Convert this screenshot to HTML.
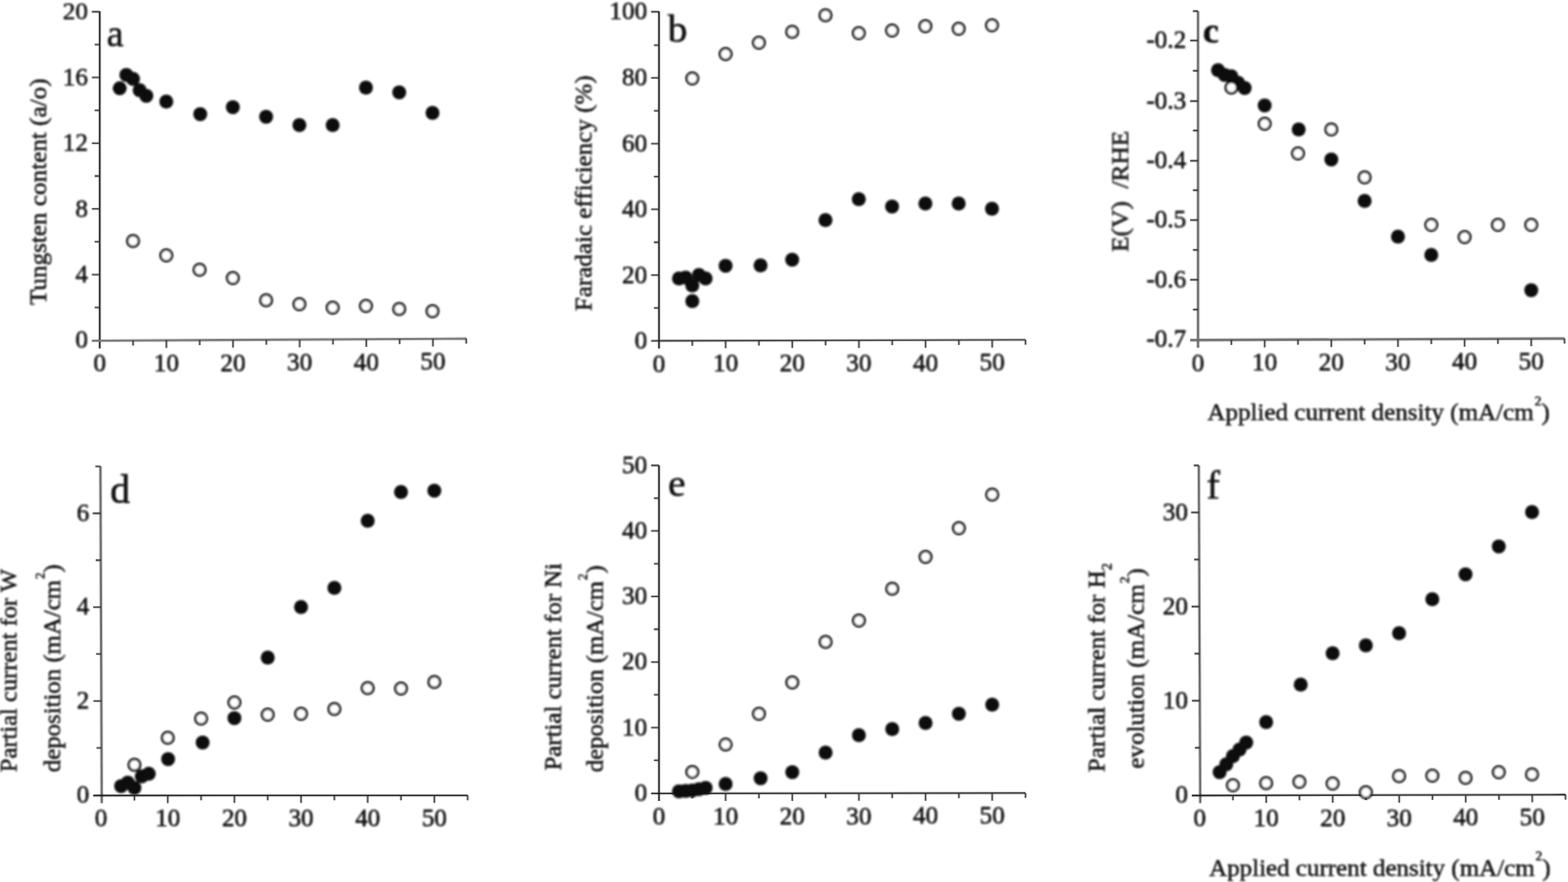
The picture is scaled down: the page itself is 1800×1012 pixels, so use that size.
<!DOCTYPE html>
<html lang="en">
<head>
<meta charset="utf-8">
<title>Figure</title>
<style>
html,body{margin:0;padding:0;background:#fff;}
body{width:1800px;height:1012px;overflow:hidden;}
svg{display:block;font-family:"Liberation Serif",serif;fill:#0c0c0c;}
text{stroke:#0c0c0c;stroke-width:0.6px;stroke-linejoin:round;}
.lb{stroke-width:0.5px;}
</style>
</head>
<body>
<svg width="1800" height="1012" viewBox="0 0 1800 1012">
<defs><filter id="soft" x="0" y="0" width="1800" height="1012" filterUnits="userSpaceOnUse"><feGaussianBlur stdDeviation="1"/></filter></defs>
<rect width="1800" height="1012" fill="#fff"/>
<g id="plot-a">
<g>
<path d="M114.5 13 L114.5 399.7" stroke="#161616" stroke-width="3.4" stroke-opacity="0.3" fill="none"/>
<path d="M114.5 13 L114.5 399.7" stroke="#161616" stroke-width="1.4" fill="none"/>
<path d="M105.5 391 L535.25 388.6" stroke="#777777" stroke-width="4.2" stroke-opacity="0.3" fill="none"/>
<path d="M105.5 391 L535.25 388.6" stroke="#777777" stroke-width="2.2" fill="none"/>
<path d="M152.75 390.78 v5.7 M191 390.56 v8.7 M229.25 390.35 v5.7 M267.5 390.13 v8.7 M305.75 389.91 v5.7 M344 389.69 v8.7 M382.25 389.47 v5.7 M420.5 389.25 v8.7 M458.75 389.04 v5.7 M497 388.82 v8.7 M535.25 388.6 v5.7 M114.5 315.1 h-9 M114.5 239.7 h-9 M114.5 164.3 h-9 M114.5 88.9 h-9 M114.5 13.5 h-9 M114.5 352.8 h-5.8 M114.5 277.4 h-5.8 M114.5 202 h-5.8 M114.5 126.6 h-5.8 M114.5 51.2 h-5.8" stroke="#3a3a3a" stroke-width="3.3" stroke-opacity="0.3" fill="none"/>
<path d="M152.75 390.78 v5.7 M191 390.56 v8.7 M229.25 390.35 v5.7 M267.5 390.13 v8.7 M305.75 389.91 v5.7 M344 389.69 v8.7 M382.25 389.47 v5.7 M420.5 389.25 v8.7 M458.75 389.04 v5.7 M497 388.82 v8.7 M535.25 388.6 v5.7 M114.5 315.1 h-9 M114.5 239.7 h-9 M114.5 164.3 h-9 M114.5 88.9 h-9 M114.5 13.5 h-9 M114.5 352.8 h-5.8 M114.5 277.4 h-5.8 M114.5 202 h-5.8 M114.5 126.6 h-5.8 M114.5 51.2 h-5.8" stroke="#3a3a3a" stroke-width="1.3" fill="none"/>
</g>
<g filter="url(#soft)">
<g font-size="30.5" text-anchor="middle">
<text transform="translate(114.5 426.4) scale(0.95 1)">0</text>
<text transform="translate(191 425.96) scale(0.95 1)">10</text>
<text transform="translate(267.5 425.53) scale(0.95 1)">20</text>
<text transform="translate(344 425.09) scale(0.95 1)">30</text>
<text transform="translate(420.5 424.65) scale(0.95 1)">40</text>
<text transform="translate(497 424.22) scale(0.95 1)">50</text>
</g>
<g font-size="30.5" text-anchor="end">
<text transform="translate(101 399.3) scale(0.95 1)">0</text>
<text transform="translate(101 323.9) scale(0.95 1)">4</text>
<text transform="translate(101 248.5) scale(0.95 1)">8</text>
<text transform="translate(101 173.1) scale(0.95 1)">12</text>
<text transform="translate(101 97.7) scale(0.95 1)">16</text>
<text transform="translate(101 22.3) scale(0.95 0.91)">20</text>
</g>
<g fill="#0a0a0a"><circle cx="137.42" cy="101.3" r="8"/><circle cx="145.06" cy="86" r="8"/><circle cx="152.7" cy="90.5" r="8"/><circle cx="160.34" cy="103.5" r="8"/><circle cx="167.98" cy="110" r="8"/><circle cx="190.9" cy="116.5" r="8"/><circle cx="229.86" cy="131" r="8"/><circle cx="267.3" cy="123" r="8"/><circle cx="305.5" cy="134" r="8"/><circle cx="343.7" cy="143.5" r="8"/><circle cx="381.9" cy="143.5" r="8"/><circle cx="420.1" cy="100.5" r="8"/><circle cx="458.3" cy="106" r="8"/><circle cx="496.5" cy="129.5" r="8"/></g>
<g fill="#fff" stroke="#050505" stroke-width="2.8"><circle cx="152.7" cy="276.5" r="6.6"/><circle cx="190.9" cy="293" r="6.6"/><circle cx="229.1" cy="309.5" r="6.6"/><circle cx="267.3" cy="319" r="6.6"/><circle cx="305.5" cy="344.5" r="6.6"/><circle cx="343.7" cy="349" r="6.6"/><circle cx="381.9" cy="353" r="6.6"/><circle cx="420.1" cy="351" r="6.6"/><circle cx="458.3" cy="354.5" r="6.6"/><circle cx="496.5" cy="357" r="6.6"/></g>
<text x="122.5" y="53" font-size="43.5" font-weight="normal">a</text>
<text class="lb" transform="translate(53 220) rotate(-90)" font-size="28" text-anchor="middle" textLength="260" lengthAdjust="spacingAndGlyphs" xml:space="preserve">Tungsten content (a/o)</text>
</g>
</g>
<g id="plot-b">
<g>
<path d="M756.5 13 L756.5 399.8" stroke="#161616" stroke-width="3.4" stroke-opacity="0.3" fill="none"/>
<path d="M756.5 13 L756.5 399.8" stroke="#161616" stroke-width="1.4" fill="none"/>
<path d="M747.5 391.1 L1177.25 389.9" stroke="#333333" stroke-width="3.4" stroke-opacity="0.3" fill="none"/>
<path d="M747.5 391.1 L1177.25 389.9" stroke="#333333" stroke-width="1.4" fill="none"/>
<path d="M794.75 390.99 v5.7 M833 390.88 v8.7 M871.25 390.77 v5.7 M909.5 390.66 v8.7 M947.75 390.55 v5.7 M986 390.45 v8.7 M1024.25 390.34 v5.7 M1062.5 390.23 v8.7 M1100.75 390.12 v5.7 M1139 390.01 v8.7 M1177.25 389.9 v5.7 M756.5 315.7 h-9 M756.5 240.2 h-9 M756.5 164.8 h-9 M756.5 89.3 h-9 M756.5 13.5 h-9 M756.5 353.4 h-5.8 M756.5 278 h-5.8 M756.5 202.6 h-5.8 M756.5 127.2 h-5.8 M756.5 51.8 h-5.8" stroke="#3a3a3a" stroke-width="3.3" stroke-opacity="0.3" fill="none"/>
<path d="M794.75 390.99 v5.7 M833 390.88 v8.7 M871.25 390.77 v5.7 M909.5 390.66 v8.7 M947.75 390.55 v5.7 M986 390.45 v8.7 M1024.25 390.34 v5.7 M1062.5 390.23 v8.7 M1100.75 390.12 v5.7 M1139 390.01 v8.7 M1177.25 389.9 v5.7 M756.5 315.7 h-9 M756.5 240.2 h-9 M756.5 164.8 h-9 M756.5 89.3 h-9 M756.5 13.5 h-9 M756.5 353.4 h-5.8 M756.5 278 h-5.8 M756.5 202.6 h-5.8 M756.5 127.2 h-5.8 M756.5 51.8 h-5.8" stroke="#3a3a3a" stroke-width="1.3" fill="none"/>
</g>
<g filter="url(#soft)">
<g font-size="30.5" text-anchor="middle">
<text transform="translate(756.5 426.5) scale(0.95 1)">0</text>
<text transform="translate(833 426.28) scale(0.95 1)">10</text>
<text transform="translate(909.5 426.06) scale(0.95 1)">20</text>
<text transform="translate(986 425.85) scale(0.95 1)">30</text>
<text transform="translate(1062.5 425.63) scale(0.95 1)">40</text>
<text transform="translate(1139 425.41) scale(0.95 1)">50</text>
</g>
<g font-size="30.5" text-anchor="end">
<text transform="translate(743 399.9) scale(0.95 1)">0</text>
<text transform="translate(743 324.5) scale(0.95 1)">20</text>
<text transform="translate(743 249) scale(0.95 1)">40</text>
<text transform="translate(743 173.6) scale(0.95 1)">60</text>
<text transform="translate(743 98.1) scale(0.95 1)">80</text>
<text transform="translate(743 22.3) scale(0.95 1)">100</text>
</g>
<g fill="#0a0a0a"><circle cx="779.43" cy="319.5" r="8"/><circle cx="787.08" cy="318.5" r="8"/><circle cx="794.73" cy="327.5" r="8"/><circle cx="794.73" cy="345.5" r="8"/><circle cx="802.37" cy="315.5" r="8"/><circle cx="810.01" cy="319.5" r="8"/><circle cx="832.95" cy="305" r="8"/><circle cx="873.09" cy="304.5" r="8"/><circle cx="909.4" cy="298" r="8"/><circle cx="947.62" cy="252.5" r="8"/><circle cx="985.85" cy="228.5" r="8"/><circle cx="1024.08" cy="237" r="8"/><circle cx="1062.3" cy="233.5" r="8"/><circle cx="1100.53" cy="233.5" r="8"/><circle cx="1138.75" cy="239.5" r="8"/></g>
<g fill="#fff" stroke="#050505" stroke-width="2.8"><circle cx="794.73" cy="90" r="6.6"/><circle cx="832.95" cy="62" r="6.6"/><circle cx="871.17" cy="49" r="6.6"/><circle cx="909.4" cy="36.5" r="6.6"/><circle cx="947.62" cy="17.5" r="6.6"/><circle cx="985.85" cy="38" r="6.6"/><circle cx="1024.08" cy="35" r="6.6"/><circle cx="1062.3" cy="30" r="6.6"/><circle cx="1100.53" cy="33" r="6.6"/><circle cx="1138.75" cy="29" r="6.6"/></g>
<text x="766.5" y="47.5" font-size="45" font-weight="normal">b</text>
<text class="lb" transform="translate(679 221.7) rotate(-90)" font-size="28" text-anchor="middle" textLength="270.5" lengthAdjust="spacingAndGlyphs" xml:space="preserve">Faradaic efficiency (%)</text>
</g>
</g>
<g id="plot-c">
<g>
<path d="M1375.3 13 L1375.3 398.9" stroke="#6a6a6a" stroke-width="4.2" stroke-opacity="0.3" fill="none"/>
<path d="M1375.3 13 L1375.3 398.9" stroke="#6a6a6a" stroke-width="2.2" fill="none"/>
<path d="M1366.3 390.2 L1796.05 388.5" stroke="#707070" stroke-width="4.4" stroke-opacity="0.3" fill="none"/>
<path d="M1366.3 390.2 L1796.05 388.5" stroke="#707070" stroke-width="2.4" fill="none"/>
<path d="M1413.55 390.05 v5.7 M1451.8 389.89 v8.7 M1490.05 389.74 v5.7 M1528.3 389.58 v8.7 M1566.55 389.43 v5.7 M1604.8 389.27 v8.7 M1643.05 389.12 v5.7 M1681.3 388.96 v8.7 M1719.55 388.81 v5.7 M1757.8 388.65 v8.7 M1796.05 388.5 v5.7 M1375.3 321 h-9 M1375.3 252.5 h-9 M1375.3 184.5 h-9 M1375.3 116 h-9 M1375.3 46.5 h-9 M1375.3 355.25 h-5.8 M1375.3 286.75 h-5.8 M1375.3 218.25 h-5.8 M1375.3 149.75 h-5.8 M1375.3 81.25 h-5.8 M1375.3 12.75 h-5.8" stroke="#3a3a3a" stroke-width="3.3" stroke-opacity="0.3" fill="none"/>
<path d="M1413.55 390.05 v5.7 M1451.8 389.89 v8.7 M1490.05 389.74 v5.7 M1528.3 389.58 v8.7 M1566.55 389.43 v5.7 M1604.8 389.27 v8.7 M1643.05 389.12 v5.7 M1681.3 388.96 v8.7 M1719.55 388.81 v5.7 M1757.8 388.65 v8.7 M1796.05 388.5 v5.7 M1375.3 321 h-9 M1375.3 252.5 h-9 M1375.3 184.5 h-9 M1375.3 116 h-9 M1375.3 46.5 h-9 M1375.3 355.25 h-5.8 M1375.3 286.75 h-5.8 M1375.3 218.25 h-5.8 M1375.3 149.75 h-5.8 M1375.3 81.25 h-5.8 M1375.3 12.75 h-5.8" stroke="#3a3a3a" stroke-width="1.3" fill="none"/>
</g>
<g filter="url(#soft)">
<g font-size="30.5" text-anchor="middle">
<text transform="translate(1375.3 425.6) scale(0.95 1)">0</text>
<text transform="translate(1451.8 425.29) scale(0.95 1)">10</text>
<text transform="translate(1528.3 424.98) scale(0.95 1)">20</text>
<text transform="translate(1604.8 424.67) scale(0.95 1)">30</text>
<text transform="translate(1681.3 424.36) scale(0.95 1)">40</text>
<text transform="translate(1757.8 424.05) scale(0.95 1)">50</text>
</g>
<g font-size="30.5" text-anchor="end">
<text transform="translate(1361.8 398.3) scale(0.95 1)">-0.7</text>
<text transform="translate(1361.8 329.8) scale(0.95 1)">-0.6</text>
<text transform="translate(1361.8 261.3) scale(0.95 1)">-0.5</text>
<text transform="translate(1361.8 193.3) scale(0.95 1)">-0.4</text>
<text transform="translate(1361.8 124.8) scale(0.95 1)">-0.3</text>
<text transform="translate(1361.8 55.3) scale(0.95 1)">-0.2</text>
</g>
<g fill="#0a0a0a"><circle cx="1398.25" cy="80.5" r="8"/><circle cx="1405.9" cy="86" r="8"/><circle cx="1413.55" cy="87.5" r="8"/><circle cx="1421.2" cy="95" r="8"/><circle cx="1428.85" cy="101" r="8"/><circle cx="1451.8" cy="121" r="8"/><circle cx="1490.82" cy="148.5" r="8"/><circle cx="1528.3" cy="183" r="8"/><circle cx="1566.55" cy="230.5" r="8"/><circle cx="1604.8" cy="271.5" r="8"/><circle cx="1643.05" cy="292.5" r="8"/><circle cx="1757.8" cy="333" r="8"/></g>
<g fill="#fff" stroke="#050505" stroke-width="2.8"><circle cx="1413.55" cy="100.5" r="6.6"/><circle cx="1451.8" cy="142" r="6.6"/><circle cx="1490.05" cy="176" r="6.6"/><circle cx="1528.3" cy="148.5" r="6.6"/><circle cx="1566.55" cy="203.5" r="6.6"/><circle cx="1643.05" cy="258" r="6.6"/><circle cx="1681.3" cy="272" r="6.6"/><circle cx="1719.55" cy="258" r="6.6"/><circle cx="1757.8" cy="258" r="6.6"/></g>
<text x="1381" y="49" font-size="41" font-weight="bold">c</text>
<text class="lb" transform="translate(1295 219.5) rotate(-90)" font-size="28" text-anchor="middle" textLength="139" lengthAdjust="spacingAndGlyphs" xml:space="preserve">E(V)  /RHE</text>
<text class="lb" x="1386" y="482" font-size="28" textLength="393" lengthAdjust="spacingAndGlyphs">Applied current density (mA/cm<tspan dx="1" dy="-17.5" font-size="15">2</tspan><tspan dy="17.5">)</tspan></text>
</g>
</g>
<g id="plot-d">
<g>
<path d="M115.3 535 L116.8 921.4" stroke="#6a6a6a" stroke-width="4.2" stroke-opacity="0.3" fill="none"/>
<path d="M115.3 535 L116.8 921.4" stroke="#6a6a6a" stroke-width="2.2" fill="none"/>
<path d="M107.1 912.7 L536.85 912.6" stroke="#1c1c1c" stroke-width="3.4" stroke-opacity="0.3" fill="none"/>
<path d="M107.1 912.7 L536.85 912.6" stroke="#1c1c1c" stroke-width="1.4" fill="none"/>
<path d="M154.35 912.69 v5.7 M192.6 912.68 v8.7 M230.85 912.67 v5.7 M269.1 912.66 v8.7 M307.35 912.65 v5.7 M345.6 912.65 v8.7 M383.85 912.64 v5.7 M422.1 912.63 v8.7 M460.35 912.62 v5.7 M498.6 912.61 v8.7 M536.85 912.6 v5.7 M116.35 804.3 h-9 M115.93 696.6 h-9 M115.51 589 h-9 M116.55 858.15 h-5.8 M116.14 750.45 h-5.8 M115.72 642.75 h-5.8 M115.3 535.05 h-5.8" stroke="#3a3a3a" stroke-width="3.3" stroke-opacity="0.3" fill="none"/>
<path d="M154.35 912.69 v5.7 M192.6 912.68 v8.7 M230.85 912.67 v5.7 M269.1 912.66 v8.7 M307.35 912.65 v5.7 M345.6 912.65 v8.7 M383.85 912.64 v5.7 M422.1 912.63 v8.7 M460.35 912.62 v5.7 M498.6 912.61 v8.7 M536.85 912.6 v5.7 M116.35 804.3 h-9 M115.93 696.6 h-9 M115.51 589 h-9 M116.55 858.15 h-5.8 M116.14 750.45 h-5.8 M115.72 642.75 h-5.8 M115.3 535.05 h-5.8" stroke="#3a3a3a" stroke-width="1.3" fill="none"/>
</g>
<g filter="url(#soft)">
<g font-size="30.5" text-anchor="middle">
<text transform="translate(116.1 948.1) scale(0.95 1)">0</text>
<text transform="translate(192.6 948.08) scale(0.95 1)">10</text>
<text transform="translate(269.1 948.06) scale(0.95 1)">20</text>
<text transform="translate(345.6 948.05) scale(0.95 1)">30</text>
<text transform="translate(422.1 948.03) scale(0.95 1)">40</text>
<text transform="translate(498.6 948.01) scale(0.95 1)">50</text>
</g>
<g font-size="30.5" text-anchor="end">
<text transform="translate(102.6 920.8) scale(0.95 1)">0</text>
<text transform="translate(102.6 813.1) scale(0.95 1)">2</text>
<text transform="translate(102.6 705.4) scale(0.95 1)">4</text>
<text transform="translate(102.6 597.8) scale(0.95 1)">6</text>
</g>
<g fill="#fff" stroke="#050505" stroke-width="2.8"><circle cx="154.35" cy="877.5" r="6.6"/><circle cx="192.6" cy="846.5" r="6.6"/><circle cx="230.85" cy="824.5" r="6.6"/><circle cx="269.1" cy="806" r="6.6"/><circle cx="307.35" cy="820" r="6.6"/><circle cx="345.6" cy="819" r="6.6"/><circle cx="383.85" cy="813.5" r="6.6"/><circle cx="422.1" cy="789.5" r="6.6"/><circle cx="460.35" cy="790" r="6.6"/><circle cx="498.6" cy="782.5" r="6.6"/></g>
<g fill="#0a0a0a"><circle cx="139.05" cy="902" r="8"/><circle cx="146.7" cy="898" r="8"/><circle cx="154.35" cy="904" r="8"/><circle cx="162.76" cy="890.8" r="8"/><circle cx="170.8" cy="887.8" r="8"/><circle cx="192.98" cy="871" r="8"/><circle cx="232.61" cy="852" r="8"/><circle cx="269.1" cy="824" r="8"/><circle cx="307.35" cy="754.5" r="8"/><circle cx="345.6" cy="696.5" r="8"/><circle cx="383.85" cy="674.5" r="8"/><circle cx="422.1" cy="597.5" r="8"/><circle cx="460.35" cy="564.5" r="8"/><circle cx="498.6" cy="563" r="8"/></g>
<text x="126.5" y="576.5" font-size="45.5" font-weight="normal">d</text>
<text class="lb" transform="translate(19 769.5) rotate(-90)" font-size="28" text-anchor="middle" textLength="233" lengthAdjust="spacingAndGlyphs" xml:space="preserve">Partial current for W</text>
<text class="lb" transform="translate(68.5 766.7) rotate(-90)" font-size="28" text-anchor="middle" textLength="238.5" lengthAdjust="spacingAndGlyphs" xml:space="preserve">deposition (mA/cm<tspan dx="1" dy="-17.5" font-size="15">2</tspan><tspan dy="17.5">)</tspan></text>
</g>
</g>
<g id="plot-e">
<g>
<path d="M756.5 534 L756.5 919.1" stroke="#161616" stroke-width="3.4" stroke-opacity="0.3" fill="none"/>
<path d="M756.5 534 L756.5 919.1" stroke="#161616" stroke-width="1.4" fill="none"/>
<path d="M747.5 910.4 L1177.25 909.9" stroke="#1c1c1c" stroke-width="3.4" stroke-opacity="0.3" fill="none"/>
<path d="M747.5 910.4 L1177.25 909.9" stroke="#1c1c1c" stroke-width="1.4" fill="none"/>
<path d="M794.75 910.35 v5.7 M833 910.31 v8.7 M871.25 910.26 v5.7 M909.5 910.22 v8.7 M947.75 910.17 v5.7 M986 910.13 v8.7 M1024.25 910.08 v5.7 M1062.5 910.04 v8.7 M1100.75 909.99 v5.7 M1139 909.95 v8.7 M1177.25 909.9 v5.7 M756.5 834.8 h-9 M756.5 759.6 h-9 M756.5 684.4 h-9 M756.5 609.2 h-9 M756.5 534 h-9 M756.5 872.4 h-5.8 M756.5 797.2 h-5.8 M756.5 722 h-5.8 M756.5 646.8 h-5.8 M756.5 571.6 h-5.8" stroke="#3a3a3a" stroke-width="3.3" stroke-opacity="0.3" fill="none"/>
<path d="M794.75 910.35 v5.7 M833 910.31 v8.7 M871.25 910.26 v5.7 M909.5 910.22 v8.7 M947.75 910.17 v5.7 M986 910.13 v8.7 M1024.25 910.08 v5.7 M1062.5 910.04 v8.7 M1100.75 909.99 v5.7 M1139 909.95 v8.7 M1177.25 909.9 v5.7 M756.5 834.8 h-9 M756.5 759.6 h-9 M756.5 684.4 h-9 M756.5 609.2 h-9 M756.5 534 h-9 M756.5 872.4 h-5.8 M756.5 797.2 h-5.8 M756.5 722 h-5.8 M756.5 646.8 h-5.8 M756.5 571.6 h-5.8" stroke="#3a3a3a" stroke-width="1.3" fill="none"/>
</g>
<g filter="url(#soft)">
<g font-size="30.5" text-anchor="middle">
<text transform="translate(756.5 945.8) scale(0.95 1)">0</text>
<text transform="translate(833 945.71) scale(0.95 1)">10</text>
<text transform="translate(909.5 945.62) scale(0.95 1)">20</text>
<text transform="translate(986 945.53) scale(0.95 1)">30</text>
<text transform="translate(1062.5 945.44) scale(0.95 1)">40</text>
<text transform="translate(1139 945.35) scale(0.95 1)">50</text>
</g>
<g font-size="30.5" text-anchor="end">
<text transform="translate(743 918.8) scale(0.95 1)">0</text>
<text transform="translate(743 843.6) scale(0.95 1)">10</text>
<text transform="translate(743 768.4) scale(0.95 1)">20</text>
<text transform="translate(743 693.2) scale(0.95 1)">30</text>
<text transform="translate(743 618) scale(0.95 1)">40</text>
<text transform="translate(743 542.8) scale(0.95 1)">50</text>
</g>
<g fill="#fff" stroke="#050505" stroke-width="2.8"><circle cx="794.75" cy="885.7" r="6.6"/><circle cx="833" cy="854.3" r="6.6"/><circle cx="871.25" cy="819" r="6.6"/><circle cx="909.5" cy="783" r="6.6"/><circle cx="947.75" cy="736.5" r="6.6"/><circle cx="986" cy="712" r="6.6"/><circle cx="1024.25" cy="675.5" r="6.6"/><circle cx="1062.5" cy="639" r="6.6"/><circle cx="1100.75" cy="606" r="6.6"/><circle cx="1139" cy="567.5" r="6.6"/></g>
<g fill="#0a0a0a"><circle cx="779.45" cy="908" r="8"/><circle cx="787.1" cy="907.5" r="8"/><circle cx="794.75" cy="907" r="8"/><circle cx="802.4" cy="905.5" r="8"/><circle cx="810.05" cy="904" r="8"/><circle cx="833" cy="899.5" r="8"/><circle cx="873.16" cy="893" r="8"/><circle cx="909.5" cy="886" r="8"/><circle cx="947.75" cy="863.5" r="8"/><circle cx="986" cy="843.5" r="8"/><circle cx="1024.25" cy="836.5" r="8"/><circle cx="1062.5" cy="829.5" r="8"/><circle cx="1100.75" cy="819" r="8"/><circle cx="1139" cy="808.5" r="8"/></g>
<text x="767" y="568.5" font-size="45" font-weight="normal">e</text>
<text class="lb" transform="translate(644 765) rotate(-90)" font-size="28" text-anchor="middle" textLength="238" lengthAdjust="spacingAndGlyphs" xml:space="preserve">Partial current for Ni</text>
<text class="lb" transform="translate(691.5 767.3) rotate(-90)" font-size="28" text-anchor="middle" textLength="237.3" lengthAdjust="spacingAndGlyphs" xml:space="preserve">deposition (mA/cm<tspan dx="1" dy="-17.5" font-size="15">2</tspan><tspan dy="17.5">)</tspan></text>
</g>
</g>
<g id="plot-f">
<g>
<path d="M1376.2 534 L1377.8 921.4" stroke="#6a6a6a" stroke-width="4.2" stroke-opacity="0.3" fill="none"/>
<path d="M1376.2 534 L1377.8 921.4" stroke="#6a6a6a" stroke-width="2.2" fill="none"/>
<path d="M1368.2 912.7 L1797.12 911.8" stroke="#1c1c1c" stroke-width="3.4" stroke-opacity="0.3" fill="none"/>
<path d="M1368.2 912.7 L1797.12 911.8" stroke="#1c1c1c" stroke-width="1.4" fill="none"/>
<path d="M1415.38 912.62 v5.7 M1453.55 912.54 v8.7 M1491.73 912.45 v5.7 M1529.9 912.37 v8.7 M1568.08 912.29 v5.7 M1606.25 912.21 v8.7 M1644.42 912.13 v5.7 M1682.6 912.05 v8.7 M1720.78 911.96 v5.7 M1758.95 911.88 v8.7 M1797.12 911.8 v5.7 M1377.32 804 h-9 M1376.87 696 h-9 M1376.42 588 h-9 M1377.54 858 h-5.8 M1377.09 750 h-5.8 M1376.65 642 h-5.8 M1376.2 534 h-5.8" stroke="#3a3a3a" stroke-width="3.3" stroke-opacity="0.3" fill="none"/>
<path d="M1415.38 912.62 v5.7 M1453.55 912.54 v8.7 M1491.73 912.45 v5.7 M1529.9 912.37 v8.7 M1568.08 912.29 v5.7 M1606.25 912.21 v8.7 M1644.42 912.13 v5.7 M1682.6 912.05 v8.7 M1720.78 911.96 v5.7 M1758.95 911.88 v8.7 M1797.12 911.8 v5.7 M1377.32 804 h-9 M1376.87 696 h-9 M1376.42 588 h-9 M1377.54 858 h-5.8 M1377.09 750 h-5.8 M1376.65 642 h-5.8 M1376.2 534 h-5.8" stroke="#3a3a3a" stroke-width="1.3" fill="none"/>
</g>
<g filter="url(#soft)">
<g font-size="30.5" text-anchor="middle">
<text transform="translate(1377.2 948.1) scale(0.95 1)">0</text>
<text transform="translate(1453.55 947.94) scale(0.95 1)">10</text>
<text transform="translate(1529.9 947.77) scale(0.95 1)">20</text>
<text transform="translate(1606.25 947.61) scale(0.95 1)">30</text>
<text transform="translate(1682.6 947.45) scale(0.95 1)">40</text>
<text transform="translate(1758.95 947.28) scale(0.95 1)">50</text>
</g>
<g font-size="30.5" text-anchor="end">
<text transform="translate(1363.7 920.8) scale(0.95 1)">0</text>
<text transform="translate(1363.7 812.8) scale(0.95 1)">10</text>
<text transform="translate(1363.7 704.8) scale(0.95 1)">20</text>
<text transform="translate(1363.7 596.8) scale(0.95 1)">30</text>
</g>
<g fill="#0a0a0a"><circle cx="1400.09" cy="886" r="8"/><circle cx="1407.72" cy="877" r="8"/><circle cx="1415.35" cy="867.5" r="8"/><circle cx="1422.98" cy="860" r="8"/><circle cx="1430.61" cy="852" r="8"/><circle cx="1453.5" cy="828.5" r="8"/><circle cx="1493.18" cy="785.5" r="8"/><circle cx="1529.8" cy="749.5" r="8"/><circle cx="1567.95" cy="740.5" r="8"/><circle cx="1606.1" cy="726.5" r="8"/><circle cx="1644.25" cy="687.5" r="8"/><circle cx="1682.4" cy="659" r="8"/><circle cx="1720.55" cy="627" r="8"/><circle cx="1758.7" cy="587.5" r="8"/></g>
<g fill="#fff" stroke="#050505" stroke-width="2.8"><circle cx="1415.35" cy="901" r="6.6"/><circle cx="1453.5" cy="898.5" r="6.6"/><circle cx="1491.65" cy="897" r="6.6"/><circle cx="1529.8" cy="899" r="6.6"/><circle cx="1567.95" cy="909" r="6.6"/><circle cx="1606.1" cy="890.5" r="6.6"/><circle cx="1644.25" cy="890" r="6.6"/><circle cx="1682.4" cy="892.5" r="6.6"/><circle cx="1720.55" cy="886" r="6.6"/><circle cx="1758.7" cy="888.5" r="6.6"/></g>
<text x="1385" y="571.5" font-size="46" font-weight="normal">f</text>
<text class="lb" transform="translate(1267.5 766) rotate(-90)" font-size="28" text-anchor="middle" textLength="240" lengthAdjust="spacingAndGlyphs" xml:space="preserve">Partial current for H<tspan dy="8.5" font-size="16">2</tspan></text>
<text class="lb" transform="translate(1313.3 767) rotate(-90)" font-size="28" text-anchor="middle" textLength="230" lengthAdjust="spacingAndGlyphs" xml:space="preserve">evolution (mA/cm<tspan dx="1" dy="-17.5" font-size="15">2</tspan><tspan dy="17.5">)</tspan></text>
<text class="lb" x="1388" y="1004.5" font-size="28" textLength="392" lengthAdjust="spacingAndGlyphs">Applied current density (mA/cm<tspan dx="1" dy="-17.5" font-size="15">2</tspan><tspan dy="17.5">)</tspan></text>
</g>
</g>
</svg>
</body>
</html>
